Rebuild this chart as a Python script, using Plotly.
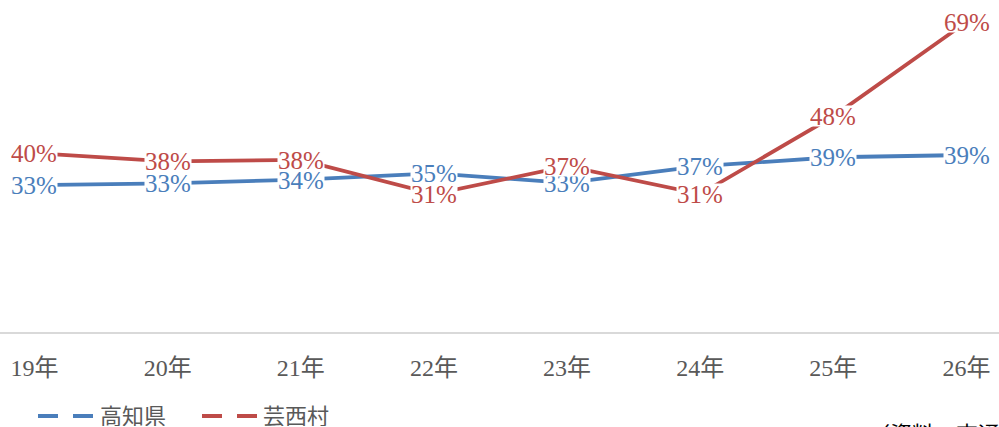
import plotly.graph_objects as go

categories = ["19年", "20年", "21年", "22年", "23年", "24年", "25年", "26年"]
kochi = [0.327, 0.331, 0.339, 0.353, 0.332, 0.369, 0.389, 0.394]
geisei = [0.398, 0.380, 0.383, 0.307, 0.369, 0.307, 0.480, 0.690]
series_names = ["高知県", "芸西村"]
colors = ["#4A7EBB", "#BE4B48"]
source_text = "（資料：交通白書）"

xs = list(range(len(categories)))
fig = go.Figure()
for name, vals, col in zip(series_names, [kochi, geisei], colors):
    fig.add_trace(go.Scatter(x=xs, y=vals, mode="lines", name=name,
                             line=dict(color=col, width=3.8), showlegend=False))

annots = []
for vals, col in zip([kochi, geisei], colors):
    for x, v in zip(xs, vals):
        annots.append(dict(x=x, y=v, xref="x", yref="y", text=f"{round(v*100)}%",
                           showarrow=False, bgcolor="white", borderpad=0, height=20,
                           font=dict(family="Liberation Serif", size=25, color=col),
                           xanchor="center", yanchor="middle"))

# manual legend (dashed keys like the reference)
H = 332.0
def py(p):
    return (H - p) / H

shapes = []
legend_items = [(38, 93, 98), (202, 257, 261)]
for (x0, x1, tx), name, col in zip(legend_items, series_names, colors):
    shapes.append(dict(type="line", xref="paper", yref="paper",
                       x0=x0 / 999, x1=x1 / 999, y0=py(416), y1=py(416),
                       line=dict(color=col, width=4, dash="20px,15px")))
    annots.append(dict(x=tx / 999, y=py(414), xref="paper", yref="paper", text=name,
                       showarrow=False, xanchor="left", yanchor="middle", height=24,
                       font=dict(family="Noto Sans CJK JP", size=22, color="#595959")))

annots.append(dict(x=866 / 999, y=py(414), xref="paper", yref="paper", text=source_text,
                   showarrow=False, xanchor="left", yanchor="top",
                   font=dict(family="Noto Sans CJK JP", size=22, color="#000000")))

fig.update_layout(
    width=999, height=427,
    margin=dict(l=0, r=0, t=0, b=427 - 332),
    paper_bgcolor="white", plot_bgcolor="white",
    annotations=annots, shapes=shapes,
    xaxis=dict(range=[-0.259, 7.244], tickmode="array", tickvals=xs, ticktext=categories,
               showgrid=False, zeroline=False, showline=True, linecolor="#D9D9D9", linewidth=2,
               ticks="", ticklabelstandoff=13,
               tickfont=dict(family="Liberation Serif, Noto Sans CJK JP", size=24, color="#595959")),
    yaxis=dict(range=[0, 0.739], visible=False),
)
fig.write_html("out.html", config={"displayModeBar": False},
               post_script="document.body.style.margin='0';document.body.style.overflow='hidden';")
